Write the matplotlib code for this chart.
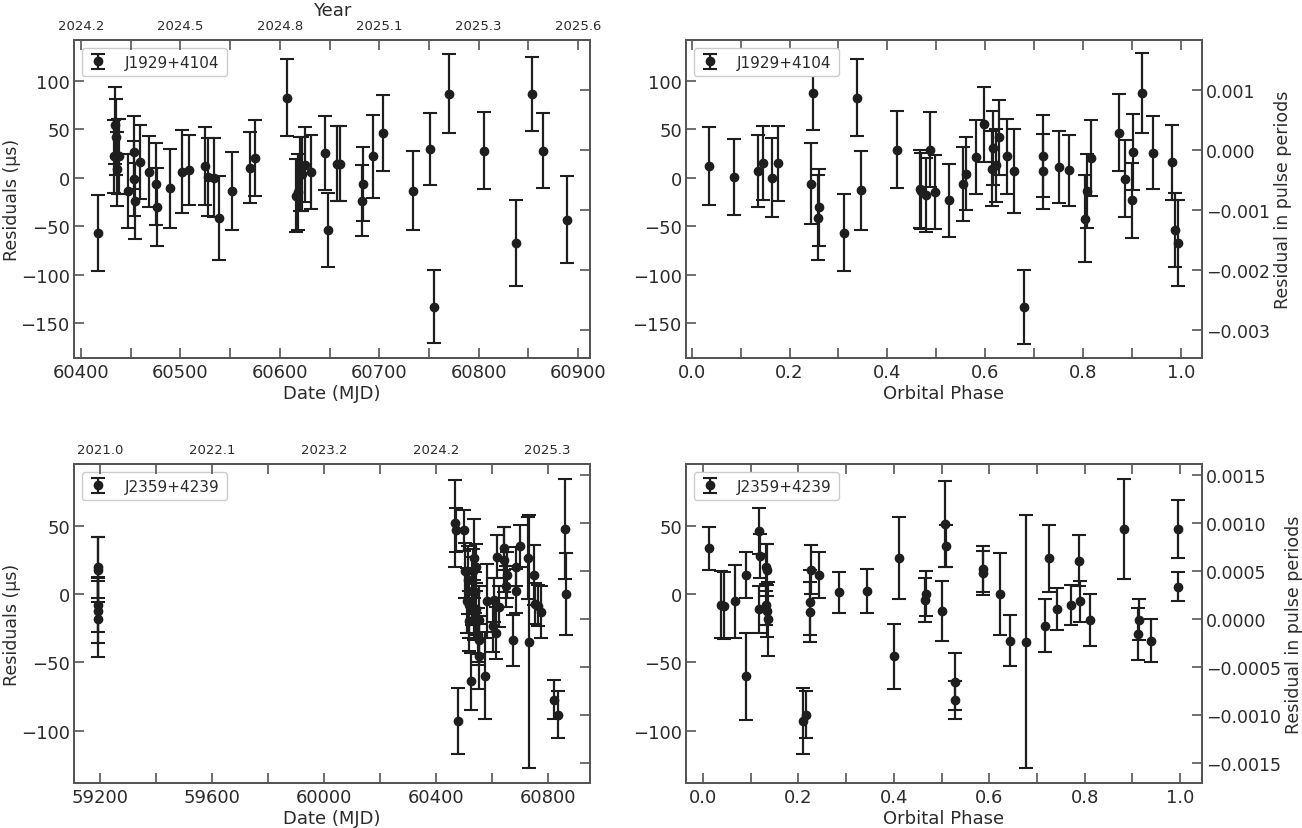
import matplotlib
matplotlib.use('Agg')
import matplotlib.pyplot as plt
from matplotlib.ticker import MultipleLocator

# J1929+4104 : residual vs MJD
j1929_mjd = [60417, 60433, 60434, 60435, 60436, 60437, 60438,
             60447.6, 60453, 60453, 60454, 60459, 60468.4, 60475.5, 60476.5, 60489.8,
             60501.3, 60509, 60525, 60528, 60533.8, 60539, 60552, 60570, 60574.7,
             60607.5, 60616.3, 60618.3, 60620.3, 60622.6, 60625.4, 60631.4, 60645.5,
             60648.2, 60657.2, 60660.5, 60682.4, 60684, 60694, 60704, 60734.3, 60751,
             60755, 60770, 60805.7, 60837.6, 60853.7, 60864.5, 60888.6]
j1929_res = [-57, 22, 54, 42, 9, 22, 22,
             -14, 26, -1, -24, 16, 6.3, -6.4, -30.5, -11,
             6.3, 8, 12, 0.5, 0, -41.5, -14, 10.4, 20,
             82.4, -18.5, -15, 4, 4, 13.5, 5.7, 25.6,
             -54, 14.6, 14.6, -23.6, -6.4, 22.2, 46.3, -13.3, 29.8,
             -133, 86.6, 28, -67.7, 86.6, 28, -43.3]
j1929_err = [39.5, 38, 40, 39, 38, 39, 39,
             38, 38, 39, 39, 38, 37, 42, 40, 41,
             43, 36.5, 40, 40, 41, 43, 40, 37, 39,
             39.6, 38, 39, 38, 38, 38.5, 38.5, 38,
             38.5, 38.5, 38.5, 37, 38, 42.7, 39.4, 40.8, 37.2,
             38, 41, 39.3, 44.4, 38, 39, 45]

# J1929+4104 : residual vs orbital phase
j1929_phase = [0.035, 0.086, 0.135, 0.145, 0.164, 0.176, 0.247, 0.244, 0.258, 0.261,
               0.312, 0.337, 0.345, 0.419, 0.467, 0.469, 0.478, 0.488, 0.497, 0.526,
               0.554, 0.56, 0.581, 0.597, 0.613, 0.616, 0.621, 0.629, 0.645, 0.659,
               0.68, 0.717, 0.717, 0.751, 0.771, 0.804, 0.807, 0.817, 0.873, 0.886,
               0.899, 0.901, 0.92, 0.942, 0.982, 0.988, 0.994]
j1929_pres = [12, 0.7, 6.5, 15, 0, 15, 87.5, -6.2, -41.3, -30.7,
              -56.8, 82.6, -13, 29, -11.4, -14, -18, 29, -14.8, -23.4,
              -6.2, 4, 21.4, 55, 9.3, 30.6, 12.7, 41.7, 22, 6.5,
              -133, 22.4, 6.5, 11, 7.5, -42.4, -13.8, 20.3, 46.5, -1,
              -23.4, 26.5, 87.5, 25.8, 15.8, -53.7, -67.5]
j1929_perr = [40.5, 39, 37, 38.4, 41, 38.7, 38, 42, 43.6, 39.6,
              39.6, 40, 41, 39.6, 40, 39, 38, 39, 38.5, 37.5,
              38, 37.7, 38, 38.7, 38.5, 38, 38, 38.5, 39, 43.4,
              38.2, 42, 38.7, 37.5, 36.5, 44.8, 38, 39, 39.6, 39.6,
              39, 39, 41, 38, 38.4, 38, 44.4]

# J2359+4239 : residual vs MJD
j2359_mjd = [59191, 59192, 59192, 59193, 59192,
             60467, 60473, 60479, 60499, 60506, 60510, 60515, 60518, 60520, 60524,
             60528, 60532, 60536, 60538, 60540, 60542, 60545, 60550, 60553, 60556,
             60556, 60576, 60583, 60606, 60607, 60616, 60619, 60627.5, 60643, 60645,
             60652, 60654, 60677, 60685, 60687, 60702, 60729, 60732, 60752, 60753,
             60764, 60776, 60821, 60836, 60863, 60865]
j2359_res = [19.5, 17.8, -7.8, -12.2, -18.3,
             51.7, 46.8, -93, 46.8, 17, -4.9, 10, -19.5, -8, -64,
             2, 17, 26, -12, 1.2, -11, 19.5, -30, -34, -45.6,
             -18.8, -59.7, -5.4, -23.2, -4.4, -28.8, 27.3, -9.3, 33.4, 25.2,
             5.6, 13.9, -34, 20, 2.4, 35.3, 26, -34.9, 13.9, -7.3,
             -8.5, -12.9, -77.3, -88.3, 47.5, 0.2]
j2359_err = [22.5, 24, 20, 24, 27.5,
             31.7, 16, 24.3, 15, 20, 24, 25, 22, 24, 21,
             25, 16, 29, 22, 15, 19, 17, 20, 18, 24,
             25, 32, 27, 19, 16, 19, 15.5, 15, 15.5, 24,
             15, 17, 18.5, 14.5, 16, 15.4, 30, 92.7, 22, 15,
             15, 19, 14, 17, 36.3, 29.9]

# J2359+4239 : residual vs orbital phase
j2359_phase = [0.012, 0.0385, 0.045, 0.068, 0.0895, 0.09, 0.117, 0.119, 0.117, 0.131,
               0.134, 0.133, 0.134, 0.136, 0.21, 0.215, 0.224, 0.224, 0.227, 0.243,
               0.285, 0.343, 0.4, 0.41, 0.465, 0.468, 0.501, 0.507, 0.51, 0.529,
               0.529, 0.587, 0.587, 0.622, 0.643, 0.677, 0.716, 0.725, 0.741, 0.772,
               0.788, 0.791, 0.811, 0.883, 0.911, 0.913, 0.94, 0.996, 0.996]
j2359_pres = [33.4, -7.8, -8.5, -5.4, 13.9, -60.2, 46, 27.6, -11.3, 19.5,
              17.8, -7.8, -12.7, -18.3, -93.1, -88.3, -12.9, -6.1, 17.8, 13.9,
              1.2, 2.2, -45.6, 26.1, -4.6, 0.2, -12.4, 51.2, 35.3, -64.1,
              -77.5, 18.3, 15.4, 0.2, -34.1, -34.9, -23.2, 26.1, -10.9, -8,
              24.4, -5.2, -18.8, 47.5, -29.3, -18.8, -34.1, 47.5, 5.4]
j2359_perr = [15.5, 24.3, 24.3, 26.8, 16.7, 32, 17, 16, 17, 17,
              19, 15, 19, 27, 24.3, 17, 22, 24, 18, 16.7,
              15.2, 16.3, 24, 29.9, 16, 16.5, 22, 31.7, 15.4, 21,
              14, 16.7, 16, 29.9, 18.5, 92.7, 19.3, 24.3, 15.2, 14.5,
              18.5, 15, 19, 36.3, 19, 15, 15.5, 21.3, 10.7]

# top axis (year) labels
j1929_year_ticks = [60400, 60500, 60600, 60700, 60800, 60900]
j1929_year_labels = ['2024.2', '2024.5', '2024.8', '2025.1', '2025.3', '2025.6']
j2359_year_ticks = [59200, 59600, 60000, 60400, 60800]
j2359_year_labels = ['2021.0', '2022.1', '2023.2', '2024.2', '2025.3']

TXT = '#2b2b2b'
EDGE = '#555555'
plt.rcParams['font.family'] = 'DejaVu Sans'
plt.rcParams['text.color'] = TXT
plt.rcParams['axes.labelcolor'] = TXT
plt.rcParams['xtick.color'] = EDGE
plt.rcParams['ytick.color'] = EDGE
plt.rcParams['xtick.labelcolor'] = TXT
plt.rcParams['ytick.labelcolor'] = TXT
plt.rcParams['axes.edgecolor'] = EDGE
plt.rcParams['axes.linewidth'] = 1.3

fig = plt.figure(figsize=(13.02, 8.29), dpi=100)
W, H = 1302, 829


def box(l, t, r, b):
    return [l / W, 1 - b / H, (r - l) / W, (b - t) / H]


def style(ax):
    ax.tick_params(axis='both', which='both', direction='in', length=7, width=1.2,
                   labelsize=13)
    ax.tick_params(axis='y', pad=3)


def draw(ax, x, y, e, label):
    ax.errorbar(x, y, yerr=e, fmt='o', color='#1e1e1e', ms=6, capsize=5,
                elinewidth=1.6, capthick=1.5, label=label)
    leg = ax.legend(loc='upper left', fontsize=11, handlelength=1.2,
                    borderpad=0.45, handletextpad=1.2, framealpha=1)
    leg.get_frame().set_edgecolor('#cccccc')
    ax.set_ylabel('Residuals (µs)', fontsize=12.5, labelpad=0)


def periods(ax, lim, step, labels=True):
    ax2 = ax.twinx()
    ax2.set_ylim(lim)
    ax2.yaxis.set_major_locator(MultipleLocator(step))
    ax2.tick_params(axis='y', direction='in', length=7, width=1.2, labelsize=12.5, pad=3)
    if labels:
        ax2.set_ylabel('Residual in pulse periods', fontsize=12.5, labelpad=3)
    else:
        ax2.set_yticklabels([])
    return ax2


def years(ax, ticks, labels, minor):
    ax3 = ax.twiny()
    ax3.set_xlim(ax.get_xlim())
    ax3.set_xticks(ticks)
    ax3.set_xticklabels(labels)
    ax3.xaxis.set_minor_locator(MultipleLocator(minor))
    ax3.tick_params(axis='x', which='both', direction='in', length=7, width=1.2,
                    labelsize=9.5, pad=6)
    return ax3


# top left
ax = fig.add_axes(box(74, 41, 590, 359))
draw(ax, j1929_mjd, j1929_res, j1929_err, 'J1929+4104')
ax.set_xlim(60393, 60912)
ax.set_ylim(-186, 142)
ax.xaxis.set_major_locator(MultipleLocator(100))
ax.xaxis.set_minor_locator(MultipleLocator(50))
ax.yaxis.set_major_locator(MultipleLocator(50))
style(ax)
ax.set_xlabel('Date (MJD)', fontsize=13, labelpad=2)
periods(ax, (-0.003467, 0.001833), 0.001, labels=False)
ax3 = years(ax, j1929_year_ticks, j1929_year_labels, 50)
ax3.set_xlabel('Year', fontsize=13, labelpad=3)

# top right
ax = fig.add_axes(box(686, 41, 1202, 359))
draw(ax, j1929_phase, j1929_pres, j1929_perr, 'J1929+4104')
ax.set_xlim(-0.0117, 1.043)
ax.set_ylim(-186, 142)
ax.xaxis.set_major_locator(MultipleLocator(0.2))
ax.xaxis.set_minor_locator(MultipleLocator(0.1))
ax.yaxis.set_major_locator(MultipleLocator(50))
style(ax)
ax.tick_params(axis='x', which='both', top=True)
ax.set_ylabel('')
ax.set_xlabel('Orbital Phase', fontsize=13, labelpad=2)
periods(ax, (-0.003467, 0.001833), 0.001)

# bottom left
ax = fig.add_axes(box(74, 465, 590, 784))
draw(ax, j2359_mjd, j2359_res, j2359_err, 'J2359+4239')
ax.set_xlim(59107, 60951)
ax.set_ylim(-138.3, 95.1)
ax.xaxis.set_major_locator(MultipleLocator(400))
ax.xaxis.set_minor_locator(MultipleLocator(200))
ax.yaxis.set_major_locator(MultipleLocator(50))
style(ax)
ax.set_xlabel('Date (MJD)', fontsize=13, labelpad=2)
periods(ax, (-0.001707, 0.001614), 0.0005, labels=False)
years(ax, j2359_year_ticks, j2359_year_labels, 200)

# bottom right
ax = fig.add_axes(box(686, 465, 1202, 784))
draw(ax, j2359_phase, j2359_pres, j2359_perr, 'J2359+4239')
ax.set_xlim(-0.0357, 1.046)
ax.set_ylim(-138.3, 95.1)
ax.xaxis.set_major_locator(MultipleLocator(0.2))
ax.xaxis.set_minor_locator(MultipleLocator(0.1))
ax.yaxis.set_major_locator(MultipleLocator(50))
style(ax)
ax.tick_params(axis='x', which='both', top=True)
ax.set_ylabel('')
ax.set_xlabel('Orbital Phase', fontsize=13, labelpad=2)
periods(ax, (-0.001707, 0.001614), 0.0005)

fig.savefig('out.png', dpi=100)
